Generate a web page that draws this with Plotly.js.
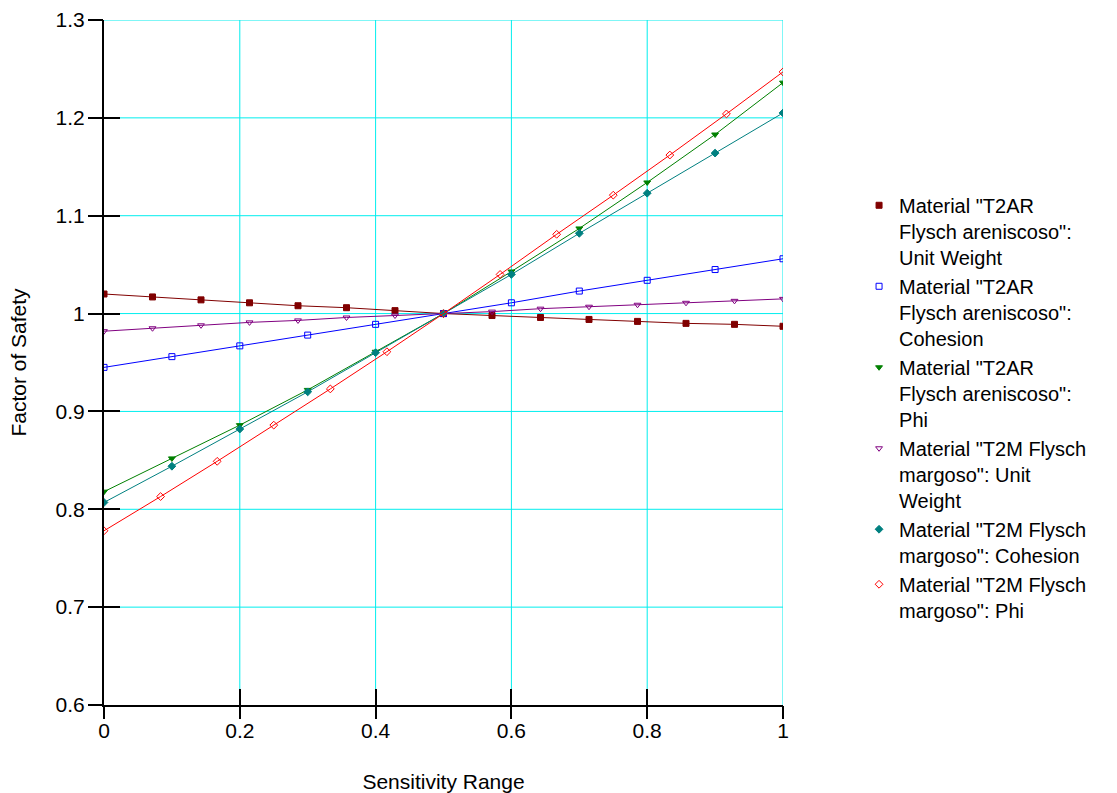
<!DOCTYPE html>
<html><head><meta charset="utf-8">
<script src="https://cdn.plot.ly/plotly-3.0.1.min.js"></script>
<style>html,body{margin:0;padding:0;background:#fff}#chart{width:1117px;height:793px}</style>
</head><body><div id="chart"></div>
<script>
const x15 = [0,1/14,2/14,3/14,4/14,5/14,6/14,7/14,8/14,9/14,10/14,11/14,12/14,13/14,1];
const x11 = [0,0.1,0.2,0.3,0.4,0.5,0.6,0.7,0.8,0.9,1];
const x13 = [0,1/12,2/12,3/12,4/12,5/12,6/12,7/12,8/12,9/12,10/12,11/12,1];

const t2arUnitWeight = [1.020,1.017,1.014,1.011,1.008,1.006,1.003,1.000,0.998,0.996,0.994,0.992,0.990,0.989,0.987];
const t2arCohesion = [0.945,0.956,0.967,0.978,0.989,1.000,1.011,1.023,1.034,1.045,1.056];
const t2arPhi = [0.818,0.852,0.886,0.922,0.961,1.000,1.043,1.087,1.134,1.183,1.236];
const t2mUnitWeight = [0.982,0.985,0.988,0.991,0.993,0.996,0.998,1.000,1.002,1.005,1.007,1.009,1.011,1.013,1.015];
const t2mCohesion = [0.807,0.844,0.882,0.920,0.960,1.000,1.040,1.082,1.123,1.164,1.205];
const t2mPhi = [0.778,0.813,0.849,0.886,0.923,0.961,1.000,1.040,1.081,1.121,1.162,1.204,1.247];

const names = [
 'Material "T2AR<br>Flysch areniscoso":<br>Unit Weight',
 'Material "T2AR<br>Flysch areniscoso":<br>Cohesion',
 'Material "T2AR<br>Flysch areniscoso":<br>Phi',
 'Material "T2M Flysch<br>margoso": Unit<br>Weight',
 'Material "T2M Flysch<br>margoso": Cohesion',
 'Material "T2M Flysch<br>margoso": Phi'
];
const xTicks = [0,0.2,0.4,0.6,0.8,1];
const xTickText = ['0','0.2','0.4','0.6','0.8','1'];
const yTicks = [0.6,0.7,0.8,0.9,1.0,1.1,1.2,1.3];
const yTickText = ['0.6','0.7','0.8','0.9','1','1.1','1.2','1.3'];

const xs = [x15, x11, x11, x15, x11, x13];
const ys = [t2arUnitWeight, t2arCohesion, t2arPhi, t2mUnitWeight, t2mCohesion, t2mPhi];
const colors = ['#800000','#0000FF','#008000','#800080','#008080','#FF0000'];
const symbols = ['square','square-open','triangle-down','triangle-down-open','diamond','diamond-open'];

const traces = [];
ys.forEach((y,i)=>{
  traces.push({
    x: xs[i], y: y, name: names[i], type:'scatter', mode:'lines+markers', showlegend:false,
    line:{color:colors[i], width:1},
    marker:{color:colors[i], symbol:symbols[i], size:6, line:{color:colors[i], width:1}}
  });
});
ys.forEach((y,i)=>{
  traces.push({
    x:[null], y:[null], name: names[i], type:'scatter', mode:'markers', showlegend:true,
    marker:{color:colors[i], symbol:symbols[i], size:6, line:{color:colors[i], width:1}}
  });
});
traces.push({x:[null], y:[null], xaxis:'x2', yaxis:'y2', showlegend:false, hoverinfo:'skip', mode:'markers'});

const GRID = 'rgb(0,238,238)';
const shapes = [];
xTicks.slice(1).forEach(v=>shapes.push({type:'line', xref:'x', yref:'paper', x0:v, x1:v, y0:0, y1:1, layer:'below', line:{color:GRID, width:1}}));
yTicks.slice(1).forEach(v=>shapes.push({type:'line', xref:'paper', yref:'y', x0:0, x1:1, y0:v, y1:v, layer:'below', line:{color:GRID, width:1}}));

const F = 'Liberation Sans, Arial, sans-serif';
const layout = {
  width:1117, height:793,
  margin:{l:104, r:334, t:20, b:88},
  paper_bgcolor:'#fff', plot_bgcolor:'#fff',
  font:{family:F, size:21, color:'#000'},
  showlegend:true,
  shapes: shapes,
  legend:{x:1.112, y:0.758, xanchor:'left', yanchor:'top', valign:'top',
          font:{family:F, size:20, color:'#000'}, tracegroupgap:0, itemwidth:30, bgcolor:'rgba(0,0,0,0)'},
  xaxis:{range:[0,1], tickvals:xTicks, ticktext:xTickText,
         showgrid:false, zeroline:false,
         showline:true, linecolor:'#000', linewidth:2, ticks:'inside', ticklen:16, tickwidth:2, tickcolor:'#000',
         ticklabelstandoff:6,
         tickfont:{size:21}, title:{text:'Sensitivity Range', font:{size:21}, standoff:36}},
  yaxis:{range:[0.6,1.3], tickvals:yTicks, ticktext:yTickText,
         showgrid:false, zeroline:false,
         showline:true, linecolor:'#000', linewidth:2, ticks:'inside', ticklen:16, tickwidth:2, tickcolor:'#000',
         ticklabelstandoff:13,
         tickfont:{size:21}, title:{text:'Factor of Safety', font:{size:21}, standoff:23}},
  xaxis2:{overlaying:'x', range:[0,1], tickvals:xTicks, showticklabels:false,
          showgrid:false, zeroline:false, showline:false, ticks:'outside', ticklen:13, tickwidth:2, tickcolor:'#000', anchor:'y2'},
  yaxis2:{overlaying:'y', range:[0.6,1.3], tickvals:yTicks, showticklabels:false,
          showgrid:false, zeroline:false, showline:false, ticks:'outside', ticklen:15, tickwidth:2, tickcolor:'#000', anchor:'x2'}
};
Plotly.newPlot('chart', traces, layout, {staticPlot:true});
</script></body></html>
